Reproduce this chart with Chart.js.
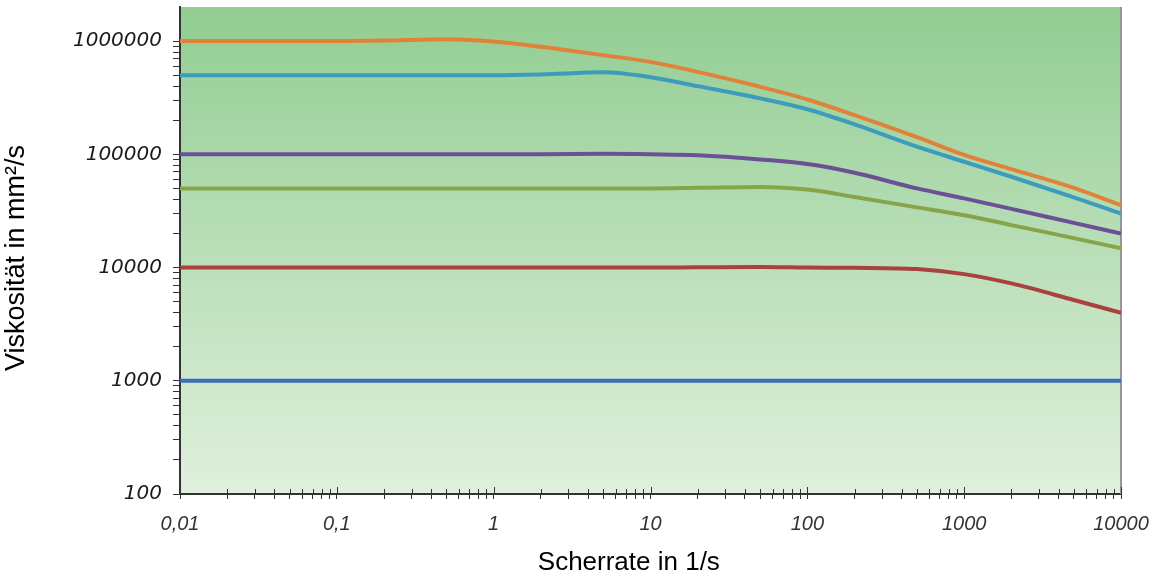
<!DOCTYPE html>
<html>
<head>
<meta charset="utf-8">
<title>Viskosität / Scherrate</title>
<script src="https://cdn.jsdelivr.net/npm/chart.js@4.4.1/dist/chart.umd.min.js"></script>
<style>
  html, body { margin: 0; padding: 0; background: #fff; }
  #wrap { width: 1153px; height: 576px; }
</style>
</head>
<body>
<div id="wrap"><canvas id="viscosityChart" width="1153" height="576"></canvas></div>
<script>
// Scherrate (1/s), gemeinsame Stützstellen aller Kurven
const shearRates = [0.01, 0.1, 0.2, 0.5, 1, 2, 5, 10, 20, 50, 100, 200, 500, 1000, 2000, 5000, 10000];

// Viskosität in mm²/s
const visc1000    = [1000, 1000, 1000, 1000, 1000, 1000, 1000, 1000, 1000, 1000, 1000, 1000, 1000, 1000, 1000, 1000, 1000];
const visc10000   = [10000, 10000, 10000, 10000, 10000, 10000, 10000, 10000, 10050, 10100, 10000, 9950, 9700, 8750, 7240, 5170, 3980];
const visc50000   = [50000, 50000, 50000, 50000, 50000, 50000, 50000, 50000, 50600, 51500, 48800, 42000, 34000, 29000, 23700, 18200, 14800];
const visc100000  = [100000, 100000, 100000, 100000, 100000, 100000, 101000, 100000, 98000, 90000, 82000, 68700, 50000, 40800, 33000, 24800, 20000];
const visc500000  = [500000, 500000, 500000, 500000, 500000, 508000, 530000, 480000, 400000, 312000, 250000, 184000, 117000, 86000, 63400, 41600, 30000];
const visc1000000 = [1000000, 1000000, 1010000, 1040000, 990000, 890000, 750000, 655000, 535000, 395000, 305000, 222000, 142000, 99000, 74000, 50500, 35500];

// Achsenbeschriftung
const xMajorTicks = [0.01, 0.1, 1, 10, 100, 1000, 10000];
const xTickLabels = ['0,01', '0,1', '1', '10', '100', '1000', '10000'];
const yMajorTicks = [100, 1000, 10000, 100000, 1000000];
const yTickLabels = ['100', '1000', '10000', '100000', '1000000'];

const seriesColors = ['#3d6db4', '#a8413f', '#88a44a', '#6b5095', '#3d9bbd', '#e0833a'];
const seriesValues = [visc1000, visc10000, visc50000, visc100000, visc500000, visc1000000];

const arialFamily = '"Liberation Sans", Arial, sans-serif';
const dejavuFamily = '"DejaVu Sans", sans-serif';

// Haupt- und Zwischenstriche je Dekade
function withMinor(majors, maxValue) {
  const out = [];
  majors.forEach(m => {
    for (let k = 1; k <= 9; k++) {
      const v = +(m * k).toPrecision(6);
      if (v <= maxValue) out.push(v);
    }
  });
  return out;
}
function majorIndex(list, v) {
  return list.findIndex(m => Math.abs(m - v) < m * 1e-6);
}

const xTickValues = withMinor(xMajorTicks, 10000);
const yTickValues = withMinor(yMajorTicks, 1000000);

// Hintergrund mit Verlauf
const plotBackground = {
  id: 'plotBackground',
  beforeDraw(chart) {
    const { ctx, chartArea: a } = chart;
    const g = ctx.createLinearGradient(0, a.top, 0, a.bottom);
    g.addColorStop(0, '#92cd92');
    g.addColorStop(1, '#e0f0dd');
    ctx.save();
    ctx.fillStyle = g;
    ctx.fillRect(a.left, a.top, a.right - a.left, a.bottom - a.top);
    ctx.restore();
  }
};

// rechter Rahmen + Striche nach innen an der x-Achse
const frameAndTicks = {
  id: 'frameAndTicks',
  beforeDatasetsDraw(chart) {
    const { ctx, chartArea: a, scales: { x } } = chart;
    ctx.save();
    ctx.strokeStyle = '#959595';
    ctx.lineWidth = 2;
    ctx.beginPath();
    ctx.moveTo(a.right, a.top);
    ctx.lineTo(a.right, a.bottom);
    ctx.stroke();
    ctx.strokeStyle = '#333';
    ctx.lineWidth = 1;
    x.ticks.forEach(t => {
      const px = Math.round(x.getPixelForValue(t.value)) + 0.5;
      const len = majorIndex(xMajorTicks, t.value) >= 0 ? 7 : 5;
      ctx.beginPath();
      ctx.moveTo(px, a.bottom);
      ctx.lineTo(px, a.bottom - len);
      ctx.stroke();
    });
    ctx.restore();
  }
};

const ctx = document.getElementById('viscosityChart').getContext('2d');
const viscosityChart = new Chart(ctx, {
  type: 'line',
  data: {
    datasets: seriesValues.map((vals, i) => ({
      data: shearRates.map((x, j) => ({ x: x, y: vals[j] })),
      borderColor: seriesColors[i],
      borderWidth: 4,
      pointRadius: 0,
      fill: false,
      cubicInterpolationMode: 'monotone'
    }))
  },
  options: {
    responsive: false,
    animation: false,
    layout: { padding: { top: 7, right: 32, left: 0, bottom: 0 } },
    plugins: {
      legend: { display: false },
      tooltip: { enabled: false }
    },
    scales: {
      x: {
        type: 'logarithmic',
        min: 0.01,
        max: 10000,
        afterBuildTicks: s => { s.ticks = xTickValues.map(v => ({ value: v })); },
        afterFit: s => {
          s.height = 82;
          s.paddingLeft = 0;
          s.paddingRight = 0;
        },
        grid: { drawOnChartArea: false, drawTicks: true, tickLength: 5, color: '#333', tickWidth: 1 },
        border: { display: true, color: '#333', width: 2 },
        ticks: {
          autoSkip: false,
          maxRotation: 0,
          padding: 13,
          color: '#333',
          font: { family: arialFamily, size: 20, style: 'italic' },
          callback: v => {
            const i = majorIndex(xMajorTicks, v);
            return i >= 0 ? xTickLabels[i] : '';
          }
        },
        title: {
          display: true,
          text: 'Scherrate in 1/s      ',
          color: '#000',
          font: { family: arialFamily, size: 26, lineHeight: 1 },
          padding: 0
        }
      },
      y: {
        type: 'logarithmic',
        min: 100,
        max: 2000000,
        afterBuildTicks: s => { s.ticks = yTickValues.map(v => ({ value: v })); },
        afterFit: s => {
          s.width = 180;
          s.paddingTop = 0;
          s.paddingBottom = 0;
        },
        grid: { drawOnChartArea: false, drawTicks: true, tickLength: 7, color: '#333', tickWidth: 1 },
        border: { display: true, color: '#333', width: 2 },
        ticks: {
          autoSkip: false,
          padding: 11,
          color: '#1a1a1a',
          font: { family: dejavuFamily, size: 20, style: 'italic' },
          callback: v => {
            const i = majorIndex(yMajorTicks, v);
            return i >= 0 ? yTickLabels[i] : '';
          }
        },
        title: {
          display: true,
          text: 'Viskosität in mm²/s  ',
          color: '#000',
          font: { family: arialFamily, size: 27, lineHeight: 1 },
          padding: { top: 3, bottom: 0 }
        }
      }
    }
  },
  plugins: [plotBackground, frameAndTicks]
});
</script>
</body>
</html>
